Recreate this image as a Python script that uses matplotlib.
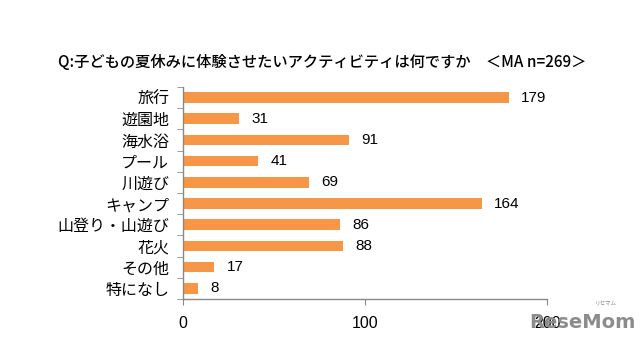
import matplotlib
matplotlib.use("Agg")
import matplotlib.pyplot as plt
import numpy as np

plt.rcParams['font.family'] = ['Noto Sans CJK JP', 'DejaVu Sans']

categories = ["旅行", "遊園地", "海水浴", "プール", "川遊び", "キャンプ", "山登り・山遊び", "花火", "その他", "特になし"]
values = [179, 31, 91, 41, 69, 164, 86, 88, 17, 8]
xticks = [0, 100, 200]
title = "Q:子どもの夏休みに体験させたいアクティビティは何ですか　＜MA n=269＞"

fig = plt.figure(figsize=(6.41, 3.41), dpi=100)
ax = fig.add_axes([0.2855, 0.1232, 0.8534 - 0.2855, 0.7449 - 0.1232])

y = np.arange(len(categories))
ax.barh(y, values, height=0.5, color="#F79646")
ax.set_ylim(len(categories) - 0.5, -0.5)
ax.set_xlim(0, 200)
ax.set_xticks(xticks)
ax.set_xticklabels([str(t) for t in xticks], fontsize=11.5, family=['Liberation Sans'])
ax.set_yticks(y)
ax.set_yticklabels(categories, fontsize=11.5)
ax.set_yticks(np.arange(-0.5, len(categories), 1), minor=True)
ax.tick_params(axis='y', which='major', length=0, pad=10)
ax.tick_params(axis='y', which='minor', length=4, color="#888888")
ax.tick_params(axis='x', length=4, color="#888888", pad=8)

for s in ['top', 'right']:
    ax.spines[s].set_visible(False)
for s in ['left', 'bottom']:
    ax.spines[s].set_color("#888888")
    ax.spines[s].set_linewidth(1)

for yi, v in zip(y, values):
    ax.annotate(str(v), (v, yi), xytext=(9, 0), textcoords='offset points',
                va='center', ha='left', fontsize=11, family=['Liberation Sans'])

fig.text(0.503, 0.818, title, ha='center', va='center', fontsize=11, fontweight='medium')
fig.text(0.908, 0.055, "ReseMom", ha='center', va='center', fontsize=14,
         fontweight='bold', color="#8c8c8c", family=['DejaVu Sans'])
fig.text(0.945, 0.11, "リセマム", ha='center', va='center', fontsize=4, color="#8c8c8c")

fig.savefig("out.png", dpi=100)
